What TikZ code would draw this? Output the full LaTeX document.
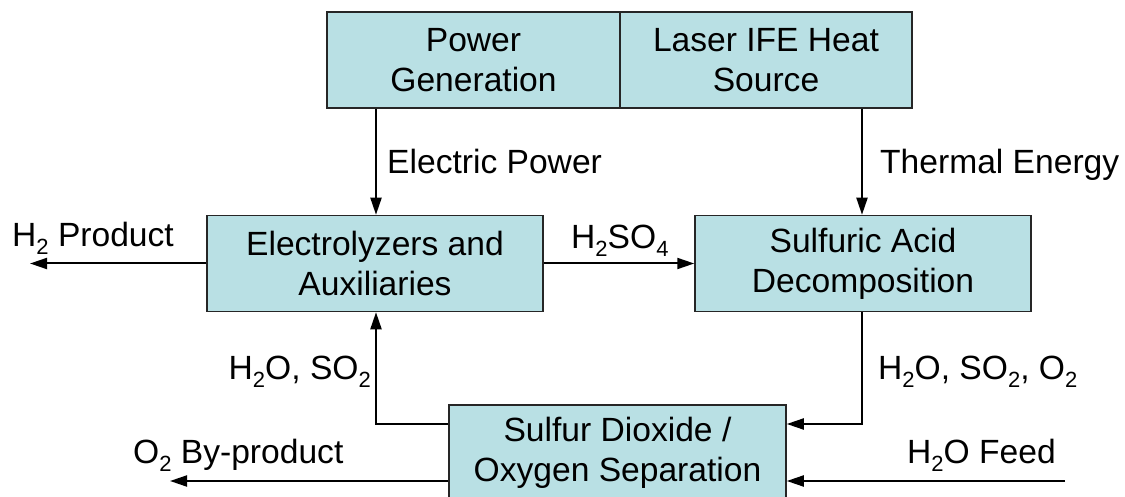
\documentclass[tikz,border=0pt]{standalone}
\usepackage{fontspec}
\setmainfont{Liberation Sans}
\usetikzlibrary{arrows.meta}
\newcommand{\sbs}[1]{\raisebox{-8pt}{\fontsize{22}{22}\selectfont #1}}
\definecolor{boxfill}{RGB}{185,224,228}
\begin{document}
\begin{tikzpicture}[x=1pt,y=-1pt,
  font=\fontsize{33.6}{40}\selectfont,
  proc/.style={draw=black!85,line width=1.5pt,fill=boxfill,align=center,inner sep=0pt,minimum height=96pt,
    execute at begin node={\rule{0pt}{30.5pt}}},
  lbl/.style={inner sep=0pt},
  arr/.style={line width=2pt,-{Triangle[length=17pt,width=11pt]}}]
\useasboundingbox (0,0) rectangle (1125,497);
% boxes
\node[proc,minimum width=293pt] (pg) at (473.5,60) {Power\\Generation};
\node[proc,minimum width=292pt] (ls) at (766,60) {Laser IFE Heat\\Source};
\node[proc,minimum width=336pt] (el) at (375,263.5) {Electrolyzers and\\Auxiliaries};
\node[proc,minimum width=336pt] (sa) at (863,263.5) {Sulfuric Acid\\Decomposition};
\node[proc,minimum width=337pt] (sp) at (617.5,453) {Sulfur Dioxide /\\Oxygen Separation};
% helper coordinates
\coordinate (xl) at (376,0);
\coordinate (xr) at (862,0);
\coordinate (h2end) at (30,263.5);
\coordinate (o2end) at (170,481);
\coordinate (feed) at (1065,481);
\coordinate (yin) at (0,424);
\coordinate (ylo) at (0,481);
% connectors
\draw[arr] (pg.south -| xl) -- (el.north -| xl);
\draw[arr] (ls.south -| xr) -- (sa.north -| xr);
\draw[arr] (el.west) -- (h2end);
\draw[arr] (el.east) -- (sa.west);
\draw[arr] (sa.south -| xr) -- (yin -| xr) -- (yin -| sp.east);
\draw[arr] (yin -| sp.west) -- (yin -| xl) -- (el.south -| xl);
\draw[arr] (ylo -| sp.west) -- (o2end);
\draw[arr] (feed) -- (ylo -| sp.east);
% labels
\node[lbl,anchor=base west] (lep) at (387,174) {Electric Power};
\node[lbl,anchor=base west] (lte) at (880,174) {Thermal Energy};
\node[lbl,anchor=base west] (lh2) at (12,247) {H\sbs{2} Product};
\node[lbl,anchor=base west] (lsa) at (571,249) {H\sbs{2}SO\sbs{4}};
\node[lbl,anchor=base west] (lmix) at (878,379) {H\sbs{2}O, SO\sbs{2}, O\sbs{2}};
\node[lbl,anchor=base east] (lret) at (371,379) {H\sbs{2}O, SO\sbs{2}};
\node[lbl,anchor=base west] (lo2) at (133,463) {O\sbs{2} By-product};
\node[lbl,anchor=base west] (lfd) at (907,463) {H\sbs{2}O Feed};
\end{tikzpicture}
\end{document}
